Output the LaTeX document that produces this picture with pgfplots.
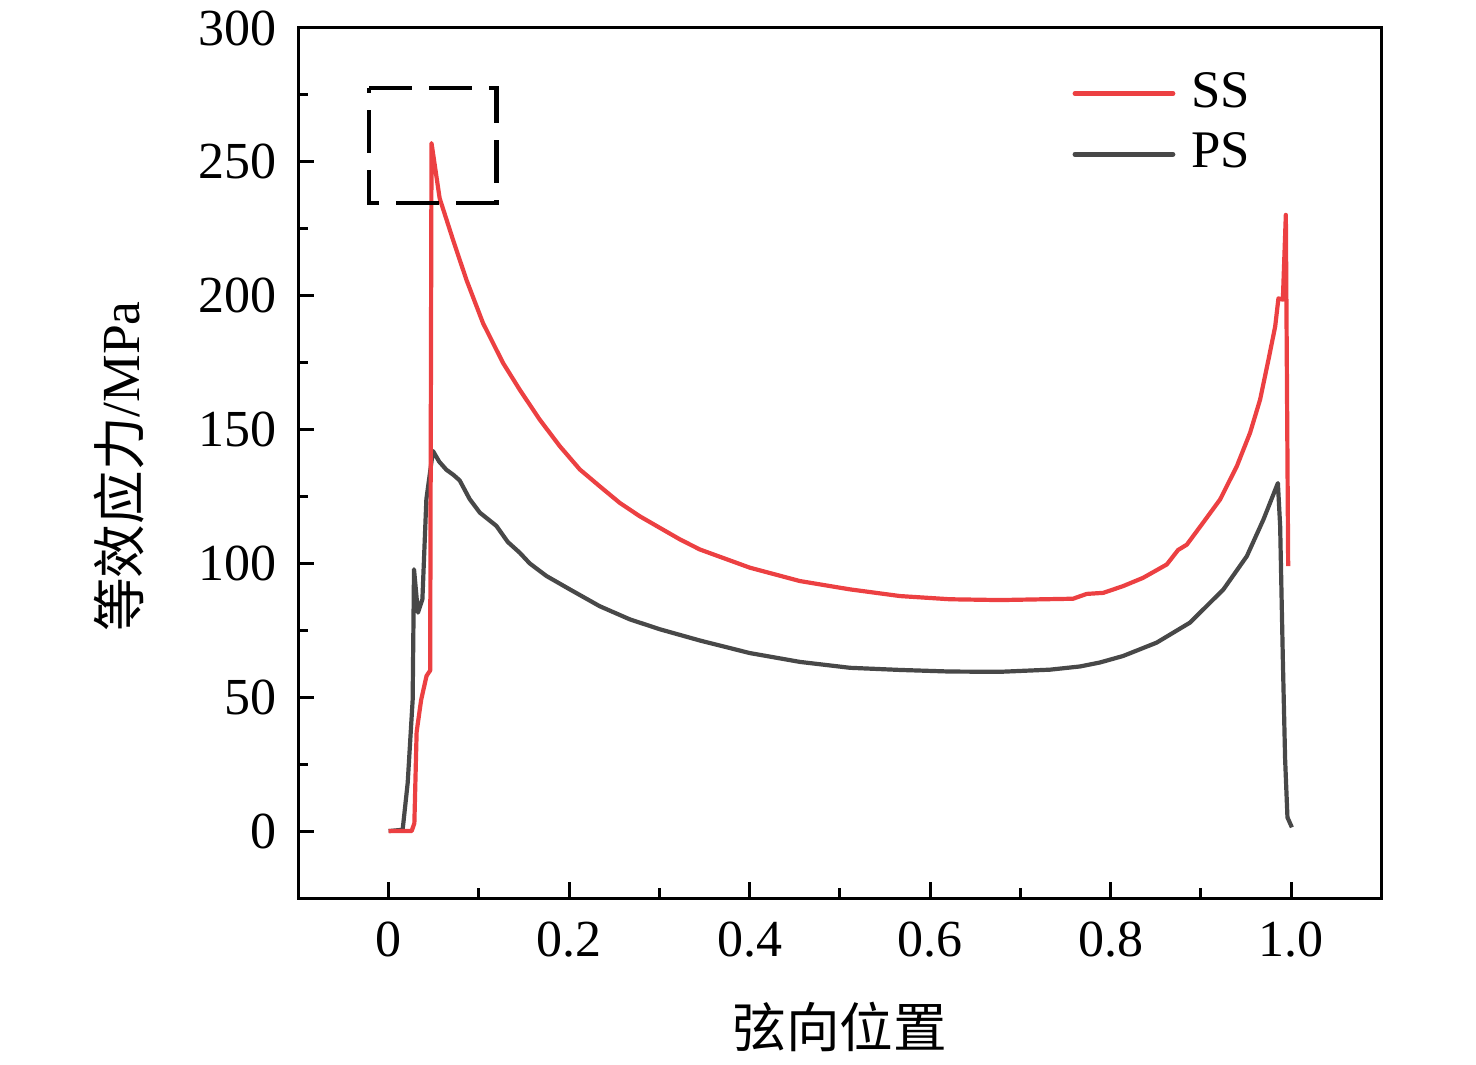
\documentclass[border=0pt]{standalone}
\usepackage{fontspec}
\setmainfont{Liberation Serif}
\newfontfamily\cjk{Noto Sans CJK SC}
\usepackage{pgfplots}
\pgfplotsset{compat=1.18}
\definecolor{ssred}{RGB}{236,64,66}
\definecolor{psgray}{RGB}{72,72,72}
\begin{document}
\fontsize{13pt}{15.6pt}\selectfont
\begin{tikzpicture}
\useasboundingbox (-74.6pt,-41.5pt) rectangle (294.4pt,224.5pt);
\begin{axis}[
  scale only axis, width=270.75pt, height=217.5pt,
  xmin=-0.1, xmax=1.1, ymin=-25, ymax=300,
  xtick={0,0.2,0.4,0.6,0.8,1.0}, xticklabels={0,0.2,0.4,0.6,0.8,1.0},
  minor xtick={0.1,0.3,0.5,0.7,0.9},
  ytick={0,50,100,150,200,250,300},
  minor ytick={25,75,125,175,225,275},
  tick pos=left, tick align=inside,
  major tick length=4pt, minor tick length=2.5pt,
  axis line style={line width=0.75pt},
  every tick/.style={black, line width=0.75pt},
  /pgf/number format/assume math mode=true,
  ticklabel style={font=\fontsize{13pt}{15pt}\selectfont},
  xticklabel style={yshift=-1.5pt},
  yticklabel style={xshift=-1pt},
  xlabel={\cjk 弦向位置},
  xlabel style={at={(axis description cs:0.5,0)}, anchor=center, yshift=-32.25pt, font=\fontsize{13.4pt}{16pt}\selectfont},
  ylabel={{\cjk 等效应力}/MPa},
  ylabel style={at={(axis description cs:0,0.496)}, anchor=center, yshift=44.75pt, font=\fontsize{13.4pt}{16pt}\selectfont},
  legend style={draw=none, fill=none, at={(rel axis cs:0.703,0.9685)}, anchor=north west,
    font=\fontsize{13.2pt}{15pt}\selectfont, row sep=0.5pt, column sep=2pt},
  legend cell align=left,
  legend image code/.code={\draw[#1, line width=1.2pt, line cap=round] (0pt,0pt) -- (24.5pt,0pt);},
  reverse legend,
]
\addplot[psgray, line width=1.05pt, line join=round] coordinates {
(0,0) (0.0155,0.5) (0.0211,18) (0.0266,49) (0.0281,97.8) (0.0325,81.6) (0.0374,86.6)
(0.0418,124) (0.0491,142) (0.0560,138) (0.0639,135) (0.0720,133) (0.0787,131) (0.0898,124)
(0.1009,119) (0.1194,114) (0.1320,108) (0.1452,104) (0.1563,100) (0.1748,95.3) (0.2007,90.3)
(0.2339,84) (0.2672,79.1) (0.3004,75.4) (0.3226,73.3) (0.3448,71.2) (0.4002,66.5) (0.4557,63.2) (0.5111,61)
(0.5665,60.2) (0.622,59.6) (0.6774,59.5) (0.7328,60.3) (0.7661,61.5) (0.7883,63)
(0.8137,65.4) (0.8510,70.4) (0.8880,77.9) (0.9250,90.3) (0.9509,102.7) (0.9693,116.4)
(0.9853,130) (0.9878,114) (0.9908,64) (0.9933,26.9) (0.9959,5.1) (1.0008,1.4)
};
\addlegendentry{PS}
\addplot[ssred, line width=1.05pt, line join=round] coordinates {
(0,0) (0.0255,0) (0.0285,3) (0.031,37) (0.036,49) (0.042,58) (0.046,60) (0.0475,257)
(0.0565,236.4) (0.0713,220.9) (0.0861,206) (0.1045,189.8) (0.1267,174.9) (0.1452,164.9)
(0.1674,153.7) (0.1896,143.8) (0.2118,135.1) (0.2339,128.8) (0.2561,122.6) (0.2783,117.6)
(0.3004,113.3) (0.3226,109) (0.3448,105.2) (0.4002,98.4)
(0.4557,93.4) (0.5111,90.3) (0.5665,87.8) (0.6220,86.6) (0.6774,86.3) (0.7583,86.8)
(0.7735,88.6) (0.7919,89) (0.8137,91.5) (0.8359,94.6) (0.8622,99.6) (0.8747,105)
(0.8844,107) (0.9024,115.2) (0.9213,123.9) (0.9398,136.3) (0.9545,148.8) (0.9656,161.2)
(0.9748,176) (0.9823,188.5) (0.9859,199) (0.9908,198.5) (0.9941,230.2) (0.9967,99)
};
\addlegendentry{SS}
\draw[black, line width=1.1pt, dash pattern=on 10.75pt off 4.25pt]
  (axis cs:-0.0216,277.6) -- (axis cs:0.1197,277.6) -- (axis cs:0.1197,234.7)
  -- (axis cs:-0.0216,234.7) -- cycle;
\end{axis}
\end{tikzpicture}
\end{document}
